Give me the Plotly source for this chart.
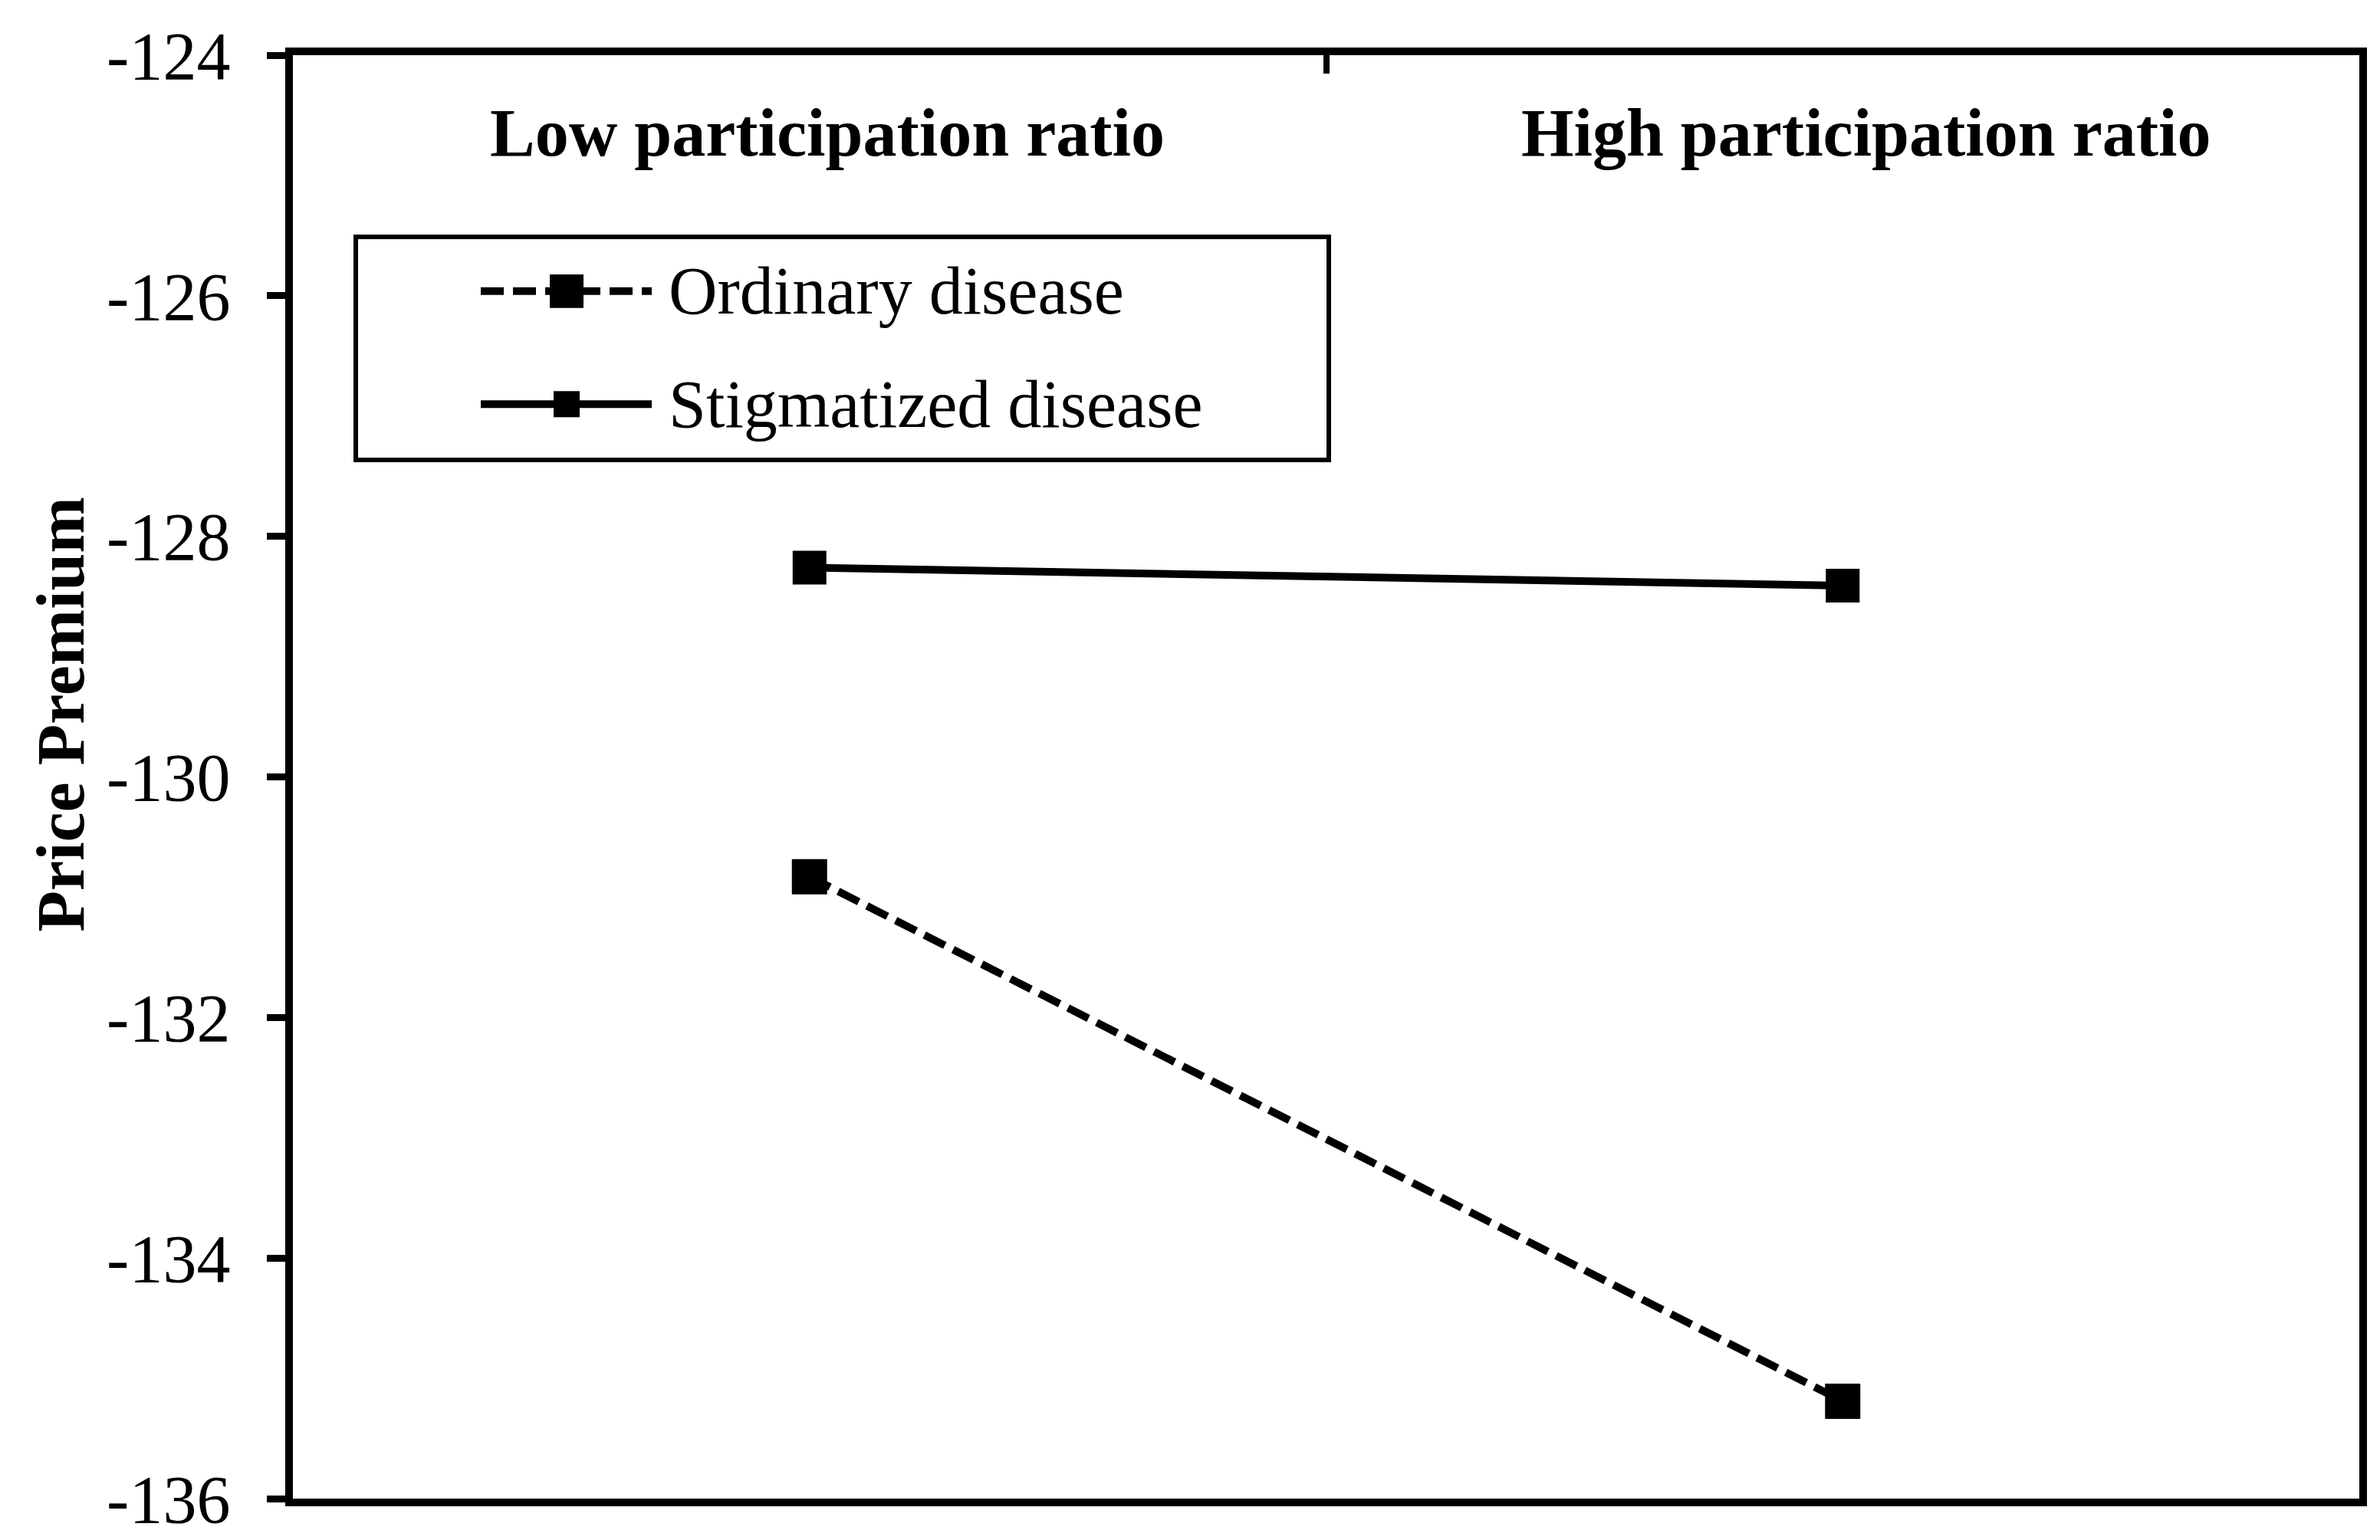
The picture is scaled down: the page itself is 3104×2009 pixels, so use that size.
import plotly.graph_objects as go

categories = ["Low participation ratio", "High participation ratio"]
series_names = ["Ordinary disease", "Stigmatized disease"]
ordinary = [-130.83, -135.19]
stigmatized = [-128.26, -128.41]
y_ticks = [-136, -134, -132, -130, -128, -126, -124]
y_tick_labels = ["-136", "-134", "-132", "-130", "-128", "-126", "-124"]

FONT = "Times New Roman, Liberation Serif, serif"
FIG_W, FIG_H = 3104, 2009
L, R, T, B = 374, 3069, 64, 1954
W, H = R - L, B - T


def px(x):
    return (x - L) / W


def py(y):
    return (B - y) / H


DASH = "30px,12px"

fig = go.Figure()
fig.add_trace(go.Scatter(
    x=categories, y=ordinary, name=series_names[0], mode="lines+markers",
    line=dict(color="black", width=10, dash=DASH),
    marker=dict(symbol="square", size=46, color="black"),
    showlegend=False,
))
fig.add_trace(go.Scatter(
    x=categories, y=stigmatized, name=series_names[1], mode="lines+markers",
    line=dict(color="black", width=10),
    marker=dict(symbol="square", size=44, color="black"),
    showlegend=False,
))

shapes = []
annotations = []
# manual legend
shapes.append(dict(type="rect", xref="paper", yref="paper",
                   x0=px(456), x1=px(1725), y0=py(594), y1=py(302),
                   line=dict(color="black", width=6), fillcolor="white", layer="above"))
leg_rows = [373, 521]
dashes = [DASH, "solid"]
msz = [44, 34]
for i, name in enumerate(series_names):
    yy = leg_rows[i]
    shapes.append(dict(type="line", xref="paper", yref="paper",
                       x0=px(619), x1=px(842), y0=py(yy), y1=py(yy),
                       line=dict(color="black", width=10, dash=dashes[i]), layer="above"))
    s = msz[i] / 2
    shapes.append(dict(type="rect", xref="paper", yref="paper",
                       x0=px(731 - s), x1=px(731 + s), y0=py(yy + s), y1=py(yy - s),
                       line=dict(color="black", width=0), fillcolor="black", layer="above"))
    annotations.append(dict(text=name, xref="paper", yref="paper", x=px(862), y=py(yy),
                            xanchor="left", yanchor="middle", showarrow=False,
                            font=dict(family=FONT, size=88, color="black")))

# category labels
cat_x = [1071, 2426]
for i, c in enumerate(categories):
    annotations.append(dict(text="<b>" + c + "</b>", xref="paper", yref="paper",
                            x=px(cat_x[i]), y=py(166), xanchor="center", yanchor="middle",
                            showarrow=False, font=dict(family=FONT, size=88, color="black")))

# y title
annotations.append(dict(text="<b>Price Premium</b>", xref="paper", yref="paper",
                        x=px(72), y=py(927), textangle=-90, xanchor="center", yanchor="middle",
                        showarrow=False, font=dict(family=FONT, size=88, color="black")))

fig.update_layout(
    width=FIG_W, height=FIG_H,
    margin=dict(l=L, r=FIG_W - R, t=T, b=FIG_H - B, pad=0),
    paper_bgcolor="white", plot_bgcolor="white",
    font=dict(family=FONT, size=88, color="black"),
    shapes=shapes, annotations=annotations,
    xaxis=dict(type="category", categoryorder="array", categoryarray=categories,
               range=[-0.5, 1.5], side="top", showline=True, linecolor="black", linewidth=10,
               mirror=True, ticks="inside", tickson="boundaries", ticklen=24, tickwidth=8,
               tickcolor="black", showticklabels=False, showgrid=False, zeroline=False),
    yaxis=dict(range=[-136, -124], tickvals=y_ticks, ticktext=y_tick_labels,
               showline=True, linecolor="black", linewidth=10, mirror=True,
               ticks="outside", ticklen=24, tickwidth=9, tickcolor="black",
               ticklabelstandoff=30,
               tickfont=dict(family=FONT, size=88, color="black"),
               showgrid=False, zeroline=False),
)

fig.write_html("out.html")
